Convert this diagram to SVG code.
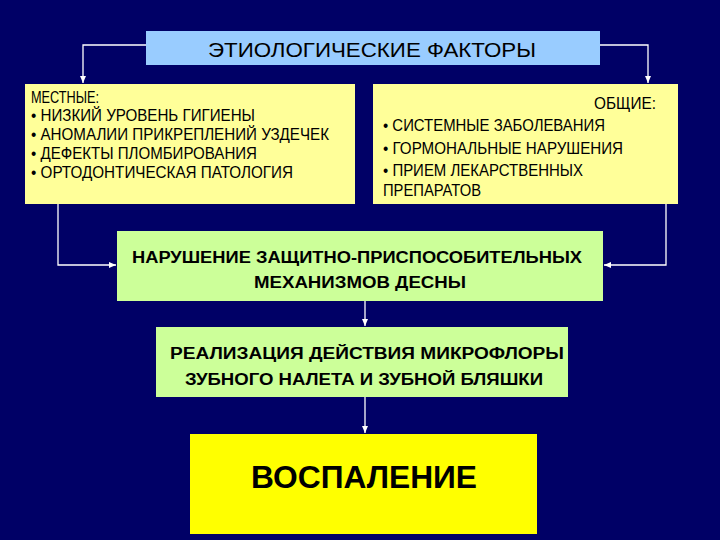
<svg xmlns="http://www.w3.org/2000/svg" width="720" height="540" viewBox="0 0 720 540">
<defs>
<marker id="ah" markerWidth="8" markerHeight="8" refX="7" refY="4" orient="auto" markerUnits="userSpaceOnUse"><path d="M0,1 L7,4 L0,7 Z" fill="#ffffff"/></marker>
<style>
text{font-family:"Liberation Sans",Arial,sans-serif;fill:#000}
.t{font-size:16px}
.b{font-size:16px;font-weight:bold}
.c line,.c path{stroke:#fff;stroke-width:1.3;fill:none;marker-end:url(#ah)}
</style>
</defs>
<rect width="720" height="540" fill="#000066"/>
<g class="c" id="connectors">
<path d="M146,45 H83 V83"/>
<path d="M600,45 H648 V83"/>
<path d="M58,204 V265 H116"/>
<path d="M666,204 V265 H604"/>
<line x1="365" y1="301" x2="365" y2="326"/>
<line x1="365" y1="397" x2="365" y2="433"/>
</g>
<g id="title"><rect x="146" y="31" width="454" height="34" fill="#99ccff"/>
<text x="372" y="57" text-anchor="middle" font-size="20" textLength="328" lengthAdjust="spacingAndGlyphs">ЭТИОЛОГИЧЕСКИЕ ФАКТОРЫ</text></g>
<g id="local"><rect x="25" y="84" width="330" height="120" fill="#ffff99"/>
<text class="t" x="31" y="103" textLength="68" lengthAdjust="spacingAndGlyphs">МЕСТНЫЕ:</text>
<text class="t" x="31" y="121" textLength="224" lengthAdjust="spacingAndGlyphs">• НИЗКИЙ УРОВЕНЬ ГИГИЕНЫ</text>
<text class="t" x="31" y="140" textLength="298" lengthAdjust="spacingAndGlyphs">• АНОМАЛИИ ПРИКРЕПЛЕНИЙ УЗДЕЧЕК</text>
<text class="t" x="31" y="159" textLength="226" lengthAdjust="spacingAndGlyphs">• ДЕФЕКТЫ ПЛОМБИРОВАНИЯ</text>
<text class="t" x="31" y="178" textLength="262" lengthAdjust="spacingAndGlyphs">• ОРТОДОНТИЧЕСКАЯ ПАТОЛОГИЯ</text></g>
<g id="general"><rect x="373" y="84" width="305" height="120" fill="#ffff99"/>
<text class="t" x="656" y="109" text-anchor="end" textLength="62" lengthAdjust="spacingAndGlyphs">ОБЩИЕ:</text>
<text class="t" x="383" y="131" textLength="222" lengthAdjust="spacingAndGlyphs">• СИСТЕМНЫЕ ЗАБОЛЕВАНИЯ</text>
<text class="t" x="383" y="154" textLength="240" lengthAdjust="spacingAndGlyphs">• ГОРМОНАЛЬНЫЕ НАРУШЕНИЯ</text>
<text class="t" x="383" y="176" textLength="200" lengthAdjust="spacingAndGlyphs">• ПРИЕМ ЛЕКАРСТВЕННЫХ</text>
<text class="t" x="383" y="196" textLength="98" lengthAdjust="spacingAndGlyphs">ПРЕПАРАТОВ</text></g>
<g id="disruption"><rect x="117" y="231" width="486" height="70" fill="#ccff99"/>
<text class="b" x="357" y="263" text-anchor="middle" textLength="450" lengthAdjust="spacingAndGlyphs">НАРУШЕНИЕ ЗАЩИТНО-ПРИСПОСОБИТЕЛЬНЫХ</text>
<text class="b" x="360" y="288" text-anchor="middle" textLength="212" lengthAdjust="spacingAndGlyphs">МЕХАНИЗМОВ ДЕСНЫ</text></g>
<g id="microflora"><rect x="156" y="327" width="412" height="70" fill="#ccff99"/>
<text class="b" x="367" y="359" text-anchor="middle" textLength="394" lengthAdjust="spacingAndGlyphs">РЕАЛИЗАЦИЯ ДЕЙСТВИЯ МИКРОФЛОРЫ</text>
<text class="b" x="364" y="385" text-anchor="middle" textLength="358" lengthAdjust="spacingAndGlyphs">ЗУБНОГО НАЛЕТА И ЗУБНОЙ БЛЯШКИ</text></g>
<g id="inflammation"><rect x="190" y="434" width="347" height="100" fill="#ffff00"/>
<text x="364" y="488" text-anchor="middle" font-size="32" font-weight="bold" textLength="226" lengthAdjust="spacingAndGlyphs">ВОСПАЛЕНИЕ</text></g>
</svg>
